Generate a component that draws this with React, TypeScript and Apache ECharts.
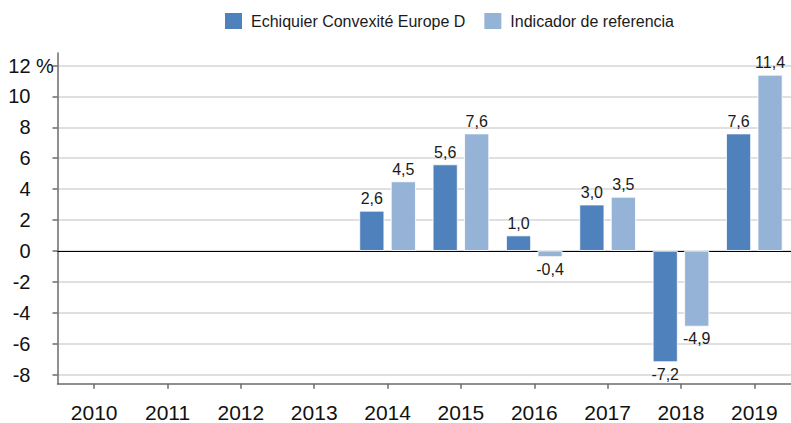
import React, { useEffect, useRef } from "react";
import * as echarts from "echarts";

const years = ["2010", "2011", "2012", "2013", "2014", "2015", "2016", "2017", "2018", "2019"];
const fundName = "Echiquier Convexité Europe D";
const benchName = "Indicador de referencia";
const fundValues: (number | null)[] = [null, null, null, null, 2.6, 5.6, 1.0, 3.0, -7.2, 7.6];
const benchValues: (number | null)[] = [null, null, null, null, 4.5, 7.6, -0.4, 3.5, -4.9, 11.4];
const yMin = -8;
const yMax = 12;
const yStep = 2;

const FONT = "'Liberation Sans', Arial, sans-serif";

const fmt = (v: number) => v.toFixed(1).replace(".", ",");

const toData = (arr: (number | null)[]) =>
  arr.map((v) =>
    v === null
      ? null
      : {
          value: v,
          label: { position: v < 0 ? "bottom" : "top" },
        }
  );

export default function App() {
  const ref = useRef<HTMLDivElement>(null);
  useEffect(() => {
    if (!ref.current) return;
    const chart = echarts.init(ref.current, undefined, { renderer: "svg" });
    const labelCommon = {
      show: true,
      fontFamily: FONT,
      fontSize: 16,
      color: "#1a1a1a",
      distance: 4,
      formatter: (p: any) => fmt(p.value),
    };
    chart.setOption({
      animation: false,
      backgroundColor: "#ffffff",
      textStyle: { fontFamily: FONT },
      legend: {
        top: 6,
        left: 218,
        itemWidth: 19,
        itemHeight: 18,
        itemGap: 17,
        icon: "rect",
        textStyle: { fontFamily: FONT, fontSize: 16, color: "#1a1a1a", padding: [0, 0, 0, 3] },
        data: [fundName, benchName],
      },
      grid: [
        { left: 57.5, right: -5, top: 65.5, bottom: 48.5 },
        { left: 57.5, right: -5, top: 53, bottom: 39.3 },
      ],
      xAxis: [
        {
          type: "category",
          gridIndex: 0,
          data: years,
          boundaryGap: true,
          axisLine: { show: true, onZero: true, lineStyle: { color: "#000", width: 1 } },
          axisTick: { show: false },
          axisLabel: { show: false },
          splitLine: { show: false },
        },
        {
          type: "category",
          gridIndex: 1,
          data: years,
          boundaryGap: true,
          axisLine: { show: true, onZero: false, lineStyle: { color: "#6b6b6b", width: 1.5 } },
          axisTick: { show: true, alignWithLabel: true, length: 5, lineStyle: { color: "#6b6b6b", width: 1.5 } },
          axisLabel: { show: true, fontFamily: FONT, fontSize: 21, color: "#111", margin: 18 },
          splitLine: { show: false },
        },
      ],
      yAxis: [
        {
          type: "value",
          gridIndex: 0,
          min: yMin,
          max: yMax,
          interval: yStep,
          axisLine: { show: false },
          axisTick: { show: true, length: 5, lineStyle: { color: "#6b6b6b", width: 1.5 } },
          splitLine: { show: true, lineStyle: { color: "#d6d6d6", width: 1.5 } },
          axisLabel: {
            show: true,
            fontFamily: FONT,
            fontSize: 20,
            color: "#111",
            margin: 4,
            align: "right",
            formatter: (v: number) => (v === yMax ? `${v}{p| %}` : `${v}{s| }`),
            rich: {
              p: { width: 23, fontSize: 20, fontFamily: FONT, color: "#111", align: "left" },
              s: { width: 23, fontSize: 20, fontFamily: FONT },
            },
          },
        },
        {
          type: "value",
          gridIndex: 1,
          min: 0,
          max: 1,
          axisLine: { show: true, lineStyle: { color: "#6b6b6b", width: 1.5 } },
          axisTick: { show: false },
          axisLabel: { show: false },
          splitLine: { show: false },
        },
      ],
      series: [
        {
          name: fundName,
          type: "bar",
          xAxisIndex: 0,
          yAxisIndex: 0,
          data: toData(fundValues),
          barWidth: 25,
          barGap: "26%",
          itemStyle: { color: "#4f81bd", borderColor: "#ffffff", borderWidth: 0.8 },
          label: labelCommon,
        },
        {
          name: benchName,
          type: "bar",
          xAxisIndex: 0,
          yAxisIndex: 0,
          data: toData(benchValues),
          barWidth: 25,
          barGap: "26%",
          itemStyle: { color: "#95b3d7", borderColor: "#ffffff", borderWidth: 0.8 },
          label: labelCommon,
        },
      ],
    });
    return () => chart.dispose();
  }, []);
  return (
    <div
      ref={ref}
      style={{ position: "fixed", left: 0, top: 0, width: 791, height: 423, background: "#fff" }}
    />
  );
}
